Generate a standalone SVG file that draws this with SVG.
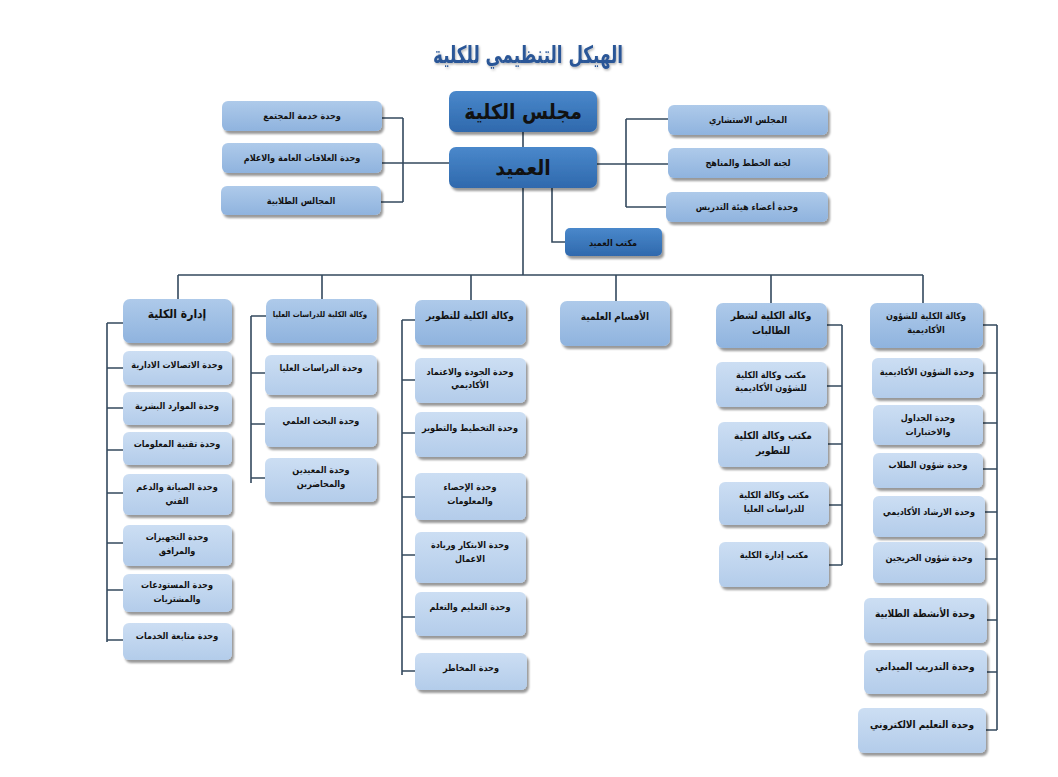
<svg xmlns="http://www.w3.org/2000/svg" width="1058" height="777" viewBox="0 0 1058 777">
<defs>
<linearGradient id="gd" x1="0" y1="0" x2="0" y2="1"><stop offset="0" stop-color="#4A88CB"/><stop offset="1" stop-color="#2F69AD"/></linearGradient>
<linearGradient id="gh" x1="0" y1="0" x2="0" y2="1"><stop offset="0" stop-color="#AECAEA"/><stop offset="1" stop-color="#8FB3DE"/></linearGradient>
<linearGradient id="gc" x1="0" y1="0" x2="0" y2="1"><stop offset="0" stop-color="#CCDEF3"/><stop offset="1" stop-color="#B3CCEA"/></linearGradient>
<filter id="sh" x="-10%" y="-20%" width="130%" height="150%"><feDropShadow dx="2" dy="3" stdDeviation="1.3" flood-color="#000" flood-opacity="0.4"/></filter>
<filter id="tsh" x="-5%" y="-20%" width="110%" height="150%"><feDropShadow dx="1" dy="1.5" stdDeviation="0.8" flood-color="#000" flood-opacity="0.3"/></filter>
</defs>
<style>
.dk{fill:url(#gd);filter:url(#sh)}
.hd{fill:url(#gh);filter:url(#sh)}
.ch{fill:url(#gc);filter:url(#sh)}
text{font-family:"DejaVu Sans Condensed","DejaVu Sans",sans-serif;font-weight:bold;text-anchor:middle;fill:#111;direction:rtl}
.xs{font-size:7.8px}
.s{font-size:9px}
.m{font-size:10px}
.l{font-size:12px}
.xl{font-size:21px}
.ti{font-size:24px;fill:#2B5797;filter:url(#tsh)}
.cn{fill:none;stroke:#34495E;stroke-width:1.6}
</style>
<rect width="1058" height="777" fill="#fff"/>
<text class="ti" x="528" y="63" textLength="190" lengthAdjust="spacingAndGlyphs">الهيكل التنظيمي للكلية</text>

<g id="connectors" class="cn">
<path d="M523,132V147"/>
<path d="M523,188V275"/>
<path d="M552,188V242H565"/>
<path d="M382,118H403M382,163H449M381,202H403M403,118V202"/>
<path d="M597,164H668M626,119H668M626,207H666M626,119V207"/>
<path d="M178,275H923M178,275V299M322,275V299M471,275V300M616,275V301M771,275V303M923,275V303"/>
<path d="M107,323V642M107,323H123M107,368H123M107,408H123M107,450H123M107,493H123M107,543H123M107,590H123M107,640H123"/>
<path d="M251,316V483M251,316H266M251,373H265M251,424H265M251,478H265"/>
<path d="M402,320V675M402,320H415M402,380H415M402,433H415M402,497H415M402,555H415M402,617H415M402,671H415"/>
<path d="M842,325V565M827,325H842M827,386H842M828,444H842M829,505H842M829,565H842"/>
<path d="M997,325V730M983,325H997M983,373H997M983,423H997M983,469H997M985,512H997M985,559H997M987,620H997M987,672H997M986,730H997"/>
</g>

<g id="n-council"><rect class="dk" x="449" y="91" width="148" height="41" rx="7"/><text class="xl" x="523" y="119">مجلس الكلية</text></g>
<g id="n-dean"><rect class="dk" x="449" y="147" width="148" height="41" rx="7"/><text class="xl" x="523" y="175">العميد</text></g>
<g id="n-deanoffice"><rect class="dk" x="565" y="228" width="97" height="28" rx="5"/><text class="s" x="613" y="246">مكتب العميد</text></g>

<g id="n-community"><rect class="hd" x="222" y="101" width="160" height="30" rx="6"/><text class="s" x="302" y="119">وحدة خدمة المجتمع</text></g>
<g id="n-pr"><rect class="hd" x="222" y="143" width="160" height="30" rx="6"/><text class="s" x="302" y="161">وحدة العلاقات العامة والاعلام</text></g>
<g id="n-studentcouncils"><rect class="hd" x="221" y="186" width="160" height="29" rx="6"/><text class="s" x="301" y="204">المجالس الطلابية</text></g>

<g id="n-advisory"><rect class="hd" x="668" y="105" width="160" height="30" rx="6"/><text class="s" x="748" y="123">المجلس الاستشاري</text></g>
<g id="n-curricula"><rect class="hd" x="668" y="148" width="160" height="30" rx="6"/><text class="s" x="748" y="166">لجنه الخطط والمناهج</text></g>
<g id="n-faculty"><rect class="hd" x="666" y="192" width="162" height="30" rx="6"/><text class="s" x="747" y="210">وحدة أعضاء هيئة التدريس</text></g>

<g id="n-admin"><rect class="hd" x="123" y="299" width="109" height="44" rx="7"/><text class="l" x="177" y="318">إدارة الكلية</text></g>
<g id="n-a1"><rect class="ch" x="123" y="351" width="109" height="34" rx="6"/><text class="s" x="177" y="368">وحدة الاتصالات الادارية</text></g>
<g id="n-a2"><rect class="ch" x="123" y="392" width="109" height="33" rx="6"/><text class="s" x="177" y="409">وحدة الموارد البشرية</text></g>
<g id="n-a3"><rect class="ch" x="123" y="432" width="109" height="33" rx="6"/><text class="s" x="177" y="447">وحدة تقنية المعلومات</text></g>
<g id="n-a4"><rect class="ch" x="123" y="474" width="109" height="41" rx="6"/><text class="s" x="177" y="490">وحدة الصيانة والدعم</text><text class="s" x="177" y="504">الفني</text></g>
<g id="n-a5"><rect class="ch" x="123" y="525" width="109" height="41" rx="6"/><text class="s" x="177" y="540">وحدة التجهيزات</text><text class="s" x="177" y="554">والمرافق</text></g>
<g id="n-a6"><rect class="ch" x="123" y="574" width="109" height="38" rx="6"/><text class="s" x="177" y="588">وحدة المستودعات</text><text class="s" x="177" y="602">والمشتريات</text></g>
<g id="n-a7"><rect class="ch" x="123" y="623" width="109" height="37" rx="6"/><text class="s" x="177" y="639">وحدة متابعة الخدمات</text></g>

<g id="n-grad"><rect class="hd" x="266" y="299" width="111" height="44" rx="7"/><text class="xs" x="320" y="317">وكالة الكلية للدراسات العليا</text></g>
<g id="n-g1"><rect class="ch" x="265" y="355" width="112" height="40" rx="6"/><text class="s" x="321" y="371">وحدة الدراسات العليا</text></g>
<g id="n-g2"><rect class="ch" x="265" y="407" width="112" height="40" rx="6"/><text class="s" x="321" y="424">وحدة البحث العلمي</text></g>
<g id="n-g3"><rect class="ch" x="265" y="458" width="112" height="44" rx="6"/><text class="s" x="321" y="473">وحدة المعيدين</text><text class="s" x="321" y="487">والمحاضرين</text></g>

<g id="n-dev"><rect class="hd" x="415" y="300" width="111" height="45" rx="7"/><text class="m" x="470" y="319">وكالة الكلية للتطوير</text></g>
<g id="n-e1"><rect class="ch" x="415" y="358" width="111" height="45" rx="6"/><text class="s" x="470" y="375">وحدة الجودة والاعتماد</text><text class="s" x="470" y="388">الأكاديمي</text></g>
<g id="n-e2"><rect class="ch" x="415" y="412" width="111" height="45" rx="6"/><text class="s" x="470" y="431">وحدة التخطيط والتطوير</text></g>
<g id="n-e3"><rect class="ch" x="415" y="473" width="111" height="47" rx="6"/><text class="s" x="470" y="490">وحدة الإحصاء</text><text class="s" x="470" y="504">والمعلومات</text></g>
<g id="n-e4"><rect class="ch" x="415" y="532" width="111" height="51" rx="6"/><text class="s" x="470" y="548">وحدة الابتكار وريادة</text><text class="s" x="470" y="562">الاعمال</text></g>
<g id="n-e5"><rect class="ch" x="415" y="592" width="111" height="44" rx="6"/><text class="s" x="470" y="610">وحدة التعليم والتعلم</text></g>
<g id="n-e6"><rect class="ch" x="415" y="653" width="112" height="37" rx="6"/><text class="s" x="471" y="671">وحدة المخاطر</text></g>

<g id="n-depts"><rect class="hd" x="560" y="301" width="110" height="45" rx="7"/><text class="m" x="615" y="320">الأقسام العلمية</text></g>

<g id="n-female"><rect class="hd" x="716" y="303" width="111" height="45" rx="7"/><text class="m" x="771" y="319">وكالة الكلية لشطر</text><text class="m" x="771" y="334">الطالبات</text></g>
<g id="n-f1"><rect class="ch" x="716" y="362" width="111" height="45" rx="6"/><text class="s" x="771" y="378">مكتب وكالة الكلية</text><text class="s" x="771" y="391">للشؤون الأكاديمية</text></g>
<g id="n-f2"><rect class="ch" x="718" y="422" width="110" height="45" rx="6"/><text class="m" x="773" y="439">مكتب وكالة الكلية</text><text class="m" x="773" y="454">للتطوير</text></g>
<g id="n-f3"><rect class="ch" x="719" y="482" width="110" height="43" rx="6"/><text class="s" x="774" y="498">مكتب وكالة الكلية</text><text class="s" x="774" y="512">للدراسات العليا</text></g>
<g id="n-f4"><rect class="ch" x="719" y="542" width="110" height="45" rx="6"/><text class="s" x="774" y="558">مكتب إدارة الكلية</text></g>

<g id="n-acad"><rect class="hd" x="870" y="303" width="113" height="45" rx="7"/><text class="s" x="926" y="319">وكالة الكلية للشؤون</text><text class="s" x="926" y="333">الأكاديمية</text></g>
<g id="n-h1"><rect class="ch" x="872" y="358" width="111" height="40" rx="6"/><text class="s" x="927" y="375">وحدة الشؤون الأكاديمية</text></g>
<g id="n-h2"><rect class="ch" x="873" y="405" width="110" height="40" rx="6"/><text class="s" x="928" y="421">وحدة الجداول</text><text class="s" x="928" y="435">والاختبارات</text></g>
<g id="n-h3"><rect class="ch" x="873" y="453" width="110" height="35" rx="6"/><text class="s" x="928" y="468">وحدة شؤون الطلاب</text></g>
<g id="n-h4"><rect class="ch" x="873" y="496" width="112" height="41" rx="6"/><text class="s" x="929" y="515">وحدة الارشاد الأكاديمي</text></g>
<g id="n-h5"><rect class="ch" x="873" y="542" width="112" height="41" rx="6"/><text class="s" x="929" y="561">وحدة شؤون الخريجين</text></g>
<g id="n-h6"><rect class="ch" x="864" y="598" width="123" height="45" rx="6"/><text class="m" x="925" y="617">وحدة الأنشطة الطلابية</text></g>
<g id="n-h7"><rect class="ch" x="864" y="650" width="123" height="44" rx="6"/><text class="m" x="925" y="670">وحدة التدريب الميداني</text></g>
<g id="n-h8"><rect class="ch" x="858" y="708" width="128" height="45" rx="6"/><text class="m" x="922" y="728">وحدة التعليم الالكتروني</text></g>
</svg>
